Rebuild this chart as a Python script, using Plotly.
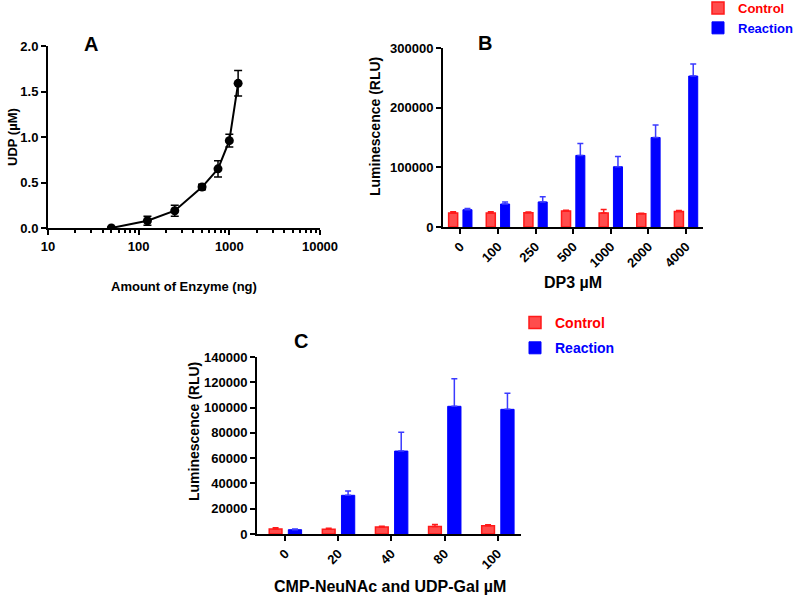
import plotly.graph_objects as go

# ---- Panel A data ----
enzyme_ng = [50, 125, 250, 500, 750, 1000, 1250]
udp_uM = [0.0, 0.08, 0.19, 0.45, 0.65, 0.96, 1.59]
udp_err = [0.01, 0.05, 0.06, 0.03, 0.09, 0.07, 0.14]

# ---- Panel B data ----
dp3_labels = ["0", "100", "250", "500", "1000", "2000", "4000"]
b_control = [23500, 23500, 24000, 27000, 23500, 22000, 26000]
b_control_err = [2000, 2000, 1000, 1000, 6000, 1000, 1500]
b_reaction = [29000, 38500, 42000, 120000, 101000, 150000, 253000]
b_reaction_err = [2000, 3500, 8500, 20000, 17000, 21000, 20000]

# ---- Panel C data ----
c_labels = ["0", "20", "40", "80", "100"]
c_control = [3900, 3700, 5500, 6000, 6500]
c_control_err = [1000, 800, 700, 1500, 800]
c_reaction = [3400, 30600, 65600, 101000, 98600]
c_reaction_err = [500, 3400, 14800, 21800, 12700]

W, H = 797, 596
RED = "#ff1a1a"
RED_FILL = "#ff4d4d"
BLUE = "#0000ff"
FONT = "Liberation Sans, Arial, sans-serif"


def px_x(a, b):
    return [a / W, b / W]


def px_y(top, bottom):
    return [(H - bottom) / H, (H - top) / H]


fig = go.Figure()

# Panel A
fig.add_trace(go.Scatter(
    x=enzyme_ng, y=udp_uM, mode="lines+markers",
    line=dict(color="black", width=2),
    marker=dict(color="black", size=9),
    error_y=dict(type="data", array=udp_err, color="black", thickness=1.5, width=4),
    xaxis="x", yaxis="y", showlegend=False,
))

# Panel B
fig.add_trace(go.Bar(
    x=dp3_labels, y=b_control, name="<span style='color:#ff0000'>Control</span>",
    marker=dict(color=RED_FILL, line=dict(color=RED, width=1.5)),
    width=0.24, offset=-0.31,
    error_y=dict(type="data", array=b_control_err, arrayminus=[0] * 7, symmetric=False,
                 color=RED, thickness=1.5, width=3),
    xaxis="x2", yaxis="y2", legend="legend",
))
fig.add_trace(go.Bar(
    x=dp3_labels, y=b_reaction, name="<span style='color:#0000ff'>Reaction</span>",
    marker=dict(color=BLUE, line=dict(color=BLUE, width=1)),
    width=0.24, offset=0.07,
    error_y=dict(type="data", array=b_reaction_err, arrayminus=[0] * 7, symmetric=False,
                 color="#3b3bff", thickness=1.5, width=3),
    xaxis="x2", yaxis="y2", legend="legend",
))

# Panel C
fig.add_trace(go.Bar(
    x=c_labels, y=c_control, name="<span style='color:#ff0000'>Control</span>",
    marker=dict(color=RED_FILL, line=dict(color=RED, width=1.5)),
    width=0.24, offset=-0.30, legendgroup="c1",
    error_y=dict(type="data", array=c_control_err, arrayminus=[0] * 5, symmetric=False,
                 color=RED, thickness=1.5, width=3),
    xaxis="x3", yaxis="y3", legend="legend2",
))
fig.add_trace(go.Bar(
    x=c_labels, y=c_reaction, name="<span style='color:#0000ff'>Reaction</span>",
    marker=dict(color=BLUE, line=dict(color=BLUE, width=1)),
    width=0.25, offset=0.06, legendgroup="c2",
    error_y=dict(type="data", array=c_reaction_err, arrayminus=[0] * 5, symmetric=False,
                 color="#3b3bff", thickness=1.5, width=3),
    xaxis="x3", yaxis="y3", legend="legend2",
))

tickfont = dict(family=FONT, size=13, color="black", weight="bold")
axis_common = dict(showline=True, linecolor="black", linewidth=2, ticks="outside",
                   tickcolor="black", tickwidth=2, ticklen=5, showgrid=False,
                   zeroline=False, tickfont=tickfont)
axis_a = dict(axis_common, tickfont=dict(tickfont, size=13))

minor_log = [m * 10 ** e for e in range(1, 4) for m in range(2, 10)]

fig.update_layout(
    width=W, height=H,
    margin=dict(l=0, r=0, t=0, b=0, autoexpand=False),
    paper_bgcolor="white", plot_bgcolor="white",
    barmode="overlay",
    font=dict(family=FONT, color="black"),
    xaxis=dict(**axis_a, type="log", domain=px_x(48, 320), range=[1, 4],
               anchor="y", tickvals=[10, 100, 1000, 10000],
               ticktext=["10", "100", "1000", "10000"],
               minor=dict(ticks="outside", ticklen=3, tickwidth=1.5, tickcolor="black",
                          tickvals=minor_log, showgrid=False)),
    yaxis=dict(**axis_a, domain=px_y(46, 228), range=[0, 2], anchor="x",
               tickvals=[0, 0.5, 1.0, 1.5, 2.0], tickformat=".1f"),
    xaxis2=dict(**axis_common, domain=px_x(443, 703), range=[-0.46, 6.45],
                anchor="y2", tickangle=-45, type="category"),
    yaxis2=dict(**axis_common, domain=px_y(48, 227), range=[0, 300000], anchor="x2",
                tickvals=[0, 100000, 200000, 300000], tickformat="d"),
    xaxis3=dict(**axis_common, domain=px_x(257, 521), range=[-0.53, 4.44],
                anchor="y3", tickangle=-45, type="category"),
    yaxis3=dict(**axis_common, domain=px_y(357, 534), range=[0, 140000], anchor="x3",
                tickvals=list(range(0, 140001, 20000)), tickformat="d"),
    legend=dict(x=698 / W, y=1 + 7 / H, xanchor="left", yanchor="top",
                font=dict(family=FONT, size=13, weight="bold"),
                bgcolor="rgba(0,0,0,0)", itemwidth=30),
    legend2=dict(x=515 / W, y=1 - 307 / H, xanchor="left", yanchor="top",
                 font=dict(family=FONT, size=14, weight="bold"),
                 bgcolor="rgba(0,0,0,0)", tracegroupgap=4, itemwidth=30),
)

def label(text, x, y, size, angle=0):
    fig.add_annotation(text=text, x=x / W, y=1 - y / H, xref="paper", yref="paper",
                       showarrow=False, textangle=angle, xanchor="center", yanchor="middle",
                       font=dict(family=FONT, size=size, color="black", weight="bold"))

label("A", 91, 44, 20)
label("B", 485, 43, 20)
label("C", 301, 341, 20)
label("UDP (µM)", 12, 137, 13, -90)
label("Amount of Enzyme (ng)", 184, 287, 13)
label("Luminescence (RLU)", 375, 127, 14, -90)
label("DP3 µM", 573, 282, 16)
label("Luminescence (RLU)", 194, 432, 14, -90)
label("CMP-NeuNAc and UDP-Gal µM", 390, 586, 16)

fig.write_html("out.html", config={"displayModeBar": False},
               post_script="document.body.style.margin='0px';document.body.style.overflow='hidden';")
